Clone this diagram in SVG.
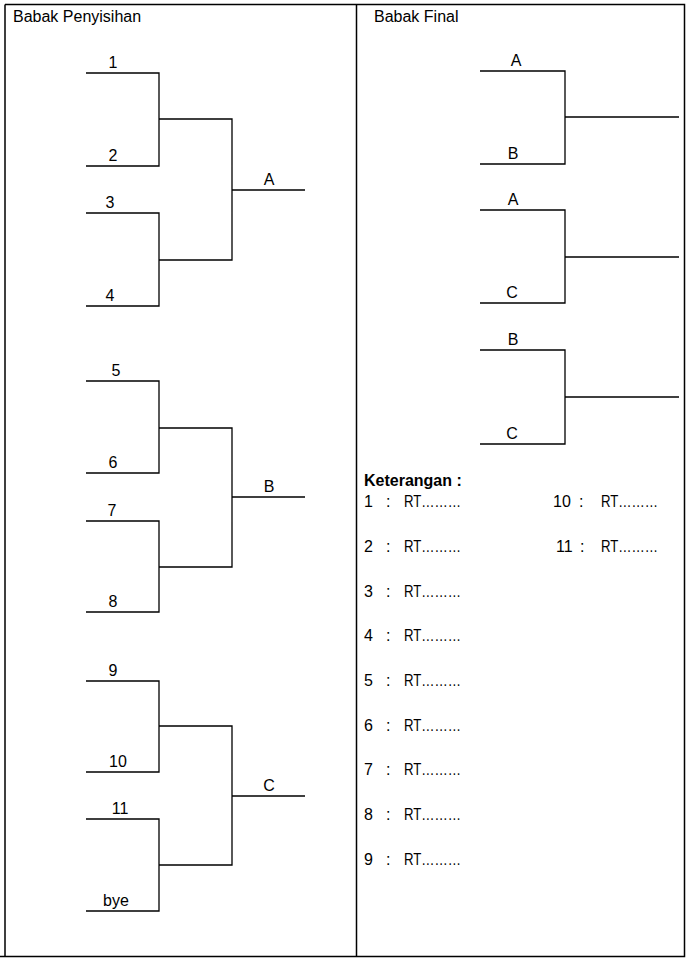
<svg xmlns="http://www.w3.org/2000/svg" width="692" height="960" viewBox="0 0 692 960">
<style>
.t{font-family:"Liberation Sans",Arial,sans-serif;font-size:16px;fill:#000}
.c{text-anchor:middle}
.b{font-weight:bold}
.ln{stroke:#000;stroke-width:1.3;fill:none}
.fr{stroke:#000;stroke-width:1.5;fill:none}
</style>
<rect width="692" height="960" fill="#fff"/>
<g id="frame">
<path class="fr" d="M5,4.5 H684.5 V956.5 H0 M5,4.5 V956.5 M356.5,4.5 V956.5"/>
<text class="t" x="13" y="22">Babak Penyisihan</text>
<text class="t" x="374" y="22">Babak Final</text>
</g>
<g id="connectors">
<path class="ln" d="M86,73 H159 V166 H86 M159,119 H232 V260 H159 M86,213 H159 V306 H86 M232,190 H305"/>
<path class="ln" d="M86,381 H159 V473 H86 M159,428 H232 V567 H159 M86,521 H159 V612 H86 M232,497 H305"/>
<path class="ln" d="M86,681 H159 V772 H86 M159,726 H232 V865 H159 M86,819 H159 V911 H86 M232,796 H305"/>
<path class="ln" d="M480,71 H565 V164 H480 M565,117 H679"/>
<path class="ln" d="M480,210 H565 V303 H480 M565,257 H679"/>
<path class="ln" d="M480,350 H565 V444 H480 M565,397 H679"/>
</g>
<g id="prelim-A">
<text class="t c" x="113" y="68">1</text>
<text class="t c" x="113" y="161">2</text>
<text class="t c" x="110" y="208">3</text>
<text class="t c" x="110" y="301">4</text>
<text class="t c" x="269" y="185">A</text>
</g>
<g id="prelim-B">
<text class="t c" x="116" y="376">5</text>
<text class="t c" x="113" y="468">6</text>
<text class="t c" x="112" y="516">7</text>
<text class="t c" x="113" y="607">8</text>
<text class="t c" x="269" y="492">B</text>
</g>
<g id="prelim-C">
<text class="t c" x="113" y="676">9</text>
<text class="t c" x="118" y="767">10</text>
<text class="t c" x="120" y="814">11</text>
<text class="t c" x="116" y="906">bye</text>
<text class="t c" x="269" y="791">C</text>
</g>
<g id="final-1">
<text class="t c" x="516" y="66">A</text>
<text class="t c" x="513" y="159">B</text>
</g>
<g id="final-2">
<text class="t c" x="513" y="205">A</text>
<text class="t c" x="512" y="298">C</text>
</g>
<g id="final-3">
<text class="t c" x="513" y="345">B</text>
<text class="t c" x="512" y="439">C</text>
</g>
<g id="keterangan">
<text class="t b" x="364" y="486">Keterangan :</text>
<g class="t">
<text x="364" y="507">1</text><text x="386" y="507">:</text><text x="404" y="507" textLength="57" lengthAdjust="spacingAndGlyphs">RT………</text>
<text x="364" y="552">2</text><text x="386" y="552">:</text><text x="404" y="552" textLength="57" lengthAdjust="spacingAndGlyphs">RT………</text>
<text x="364" y="597">3</text><text x="386" y="597">:</text><text x="404" y="597" textLength="57" lengthAdjust="spacingAndGlyphs">RT………</text>
<text x="364" y="641">4</text><text x="386" y="641">:</text><text x="404" y="641" textLength="57" lengthAdjust="spacingAndGlyphs">RT………</text>
<text x="364" y="686">5</text><text x="386" y="686">:</text><text x="404" y="686" textLength="57" lengthAdjust="spacingAndGlyphs">RT………</text>
<text x="364" y="731">6</text><text x="386" y="731">:</text><text x="404" y="731" textLength="57" lengthAdjust="spacingAndGlyphs">RT………</text>
<text x="364" y="775">7</text><text x="386" y="775">:</text><text x="404" y="775" textLength="57" lengthAdjust="spacingAndGlyphs">RT………</text>
<text x="364" y="820">8</text><text x="386" y="820">:</text><text x="404" y="820" textLength="57" lengthAdjust="spacingAndGlyphs">RT………</text>
<text x="364" y="865">9</text><text x="386" y="865">:</text><text x="404" y="865" textLength="57" lengthAdjust="spacingAndGlyphs">RT………</text>
<text x="553" y="507">10</text><text x="579" y="507">:</text><text x="601" y="507" textLength="57" lengthAdjust="spacingAndGlyphs">RT………</text>
<text x="556" y="552">11</text><text x="580" y="552">:</text><text x="601" y="552" textLength="57" lengthAdjust="spacingAndGlyphs">RT………</text>
</g>
</g>
</svg>
